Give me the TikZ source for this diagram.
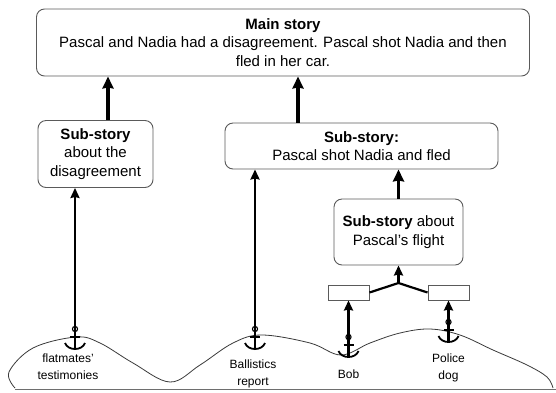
\documentclass[tikz,border=0pt]{standalone}
\usepackage{fontspec}
\setmainfont{Liberation Sans}
\usetikzlibrary{arrows.meta, calc}
\definecolor{BoxEdge}{HTML}{5A5A5A}
\definecolor{GroundEdge}{HTML}{3A3A3A}
\definecolor{BaseLine}{HTML}{6E6E6E}
\tikzset{
    % Story boxes
    storybox/.style={
        rectangle,
        rounded corners=8pt,
        draw=BoxEdge,
        line width=0.9pt,
        fill=white,
        inner sep=0pt,
        align=center,
        font=\fontsize{15}{18.5}\selectfont
    },
    factbox/.style={
        rectangle,
        draw=BoxEdge,
        line width=0.9pt,
        fill=white,
        minimum width=41pt,
        minimum height=15pt,
        inner sep=0pt
    },
    evidence/.style={
        align=center,
        inner sep=0pt,
        font=\fontsize{12}{17}\selectfont
    },
    % Arrow styles
    bigarrow/.style={
        -{Stealth[length=12pt,width=11pt,inset=1pt]},
        line width=3.4pt,
        black
    },
    moorarrow/.style={
        -{Stealth[length=10pt,width=9pt,inset=1pt]},
        line width=2.3pt,
        black
    },
    % Anchor symbol, origin at the bottom of the arc
    moor/.pic={
        \draw[line width=1.1pt] (0,-21) circle (2.6pt);
        \draw[line width=1.5pt] (-5,-13) -- (5,-13);
        \draw[line width=1.8pt] (-10,-7) .. controls (-7,1) and (7,1) .. (10,-7);
    }
}
\begin{document}
\begin{tikzpicture}[x=1pt, y=-1pt]
    \useasboundingbox (0,0) rectangle (556,392);

    % Stories
    \node[storybox, minimum width=493pt, minimum height=67pt] (main) at (283,42.5)
        {\textbf{Main story}\\Pascal and Nadia had a disagreement. Pascal shot Nadia and then\\fled in her car.};
    \node[storybox, minimum width=115pt, minimum height=67pt] (subdis) at (95.5,154)
        {\textbf{Sub-story}\\about the\\disagreement};
    \node[storybox, minimum width=273pt, minimum height=46pt] (subshot) at (361.5,146)
        {\textbf{Sub-story:}\\Pascal shot Nadia and fled};
    \node[storybox, minimum width=129pt, minimum height=66pt] (subflight) at (398.5,232)
        {\textbf{Sub-story} about\\Pascal's flight};

    % Facts about the flight
    \node[factbox] (factbob) at (348.5,292.5) {};
    \node[factbox] (factdog) at (448.5,292.5) {};
    \coordinate (join) at (398.5,283);

    % Ground of evidence
    \draw[GroundEdge, line width=0.8pt] plot[smooth, tension=0.6] coordinates {
        (15,388) (9,372) (33,348) (76,337) (100,343) (133,363) (170,382)
        (200,365) (233,343) (262,335) (310,343) (341,355) (370,343)
        (400,333) (430,329) (460,335) (493,350) (527,365) (547,377) (553,388)};
    \draw[BaseLine, line width=1.8pt] (15,389.5) -- (556,389.5);

    % Anchors
    \coordinate (flat) at (75,350);
    \coordinate (ball) at (255,350);
    \coordinate (bob) at (348.5,358);
    \coordinate (dog) at (448.5,343);
    \foreach \p in {flat, ball, bob, dog}
        \pic at (\p) {moor};

    % Evidence labels
    \node[evidence] (lblflat) at (68,367) {flatmates'\\testimonies};
    \node[evidence] (lblball) at (253,374) {Ballistics\\report};
    \node[evidence] (lblbob) at (348.5,374) {Bob};
    \node[evidence] (lbldog) at (448.5,368) {Police\\dog};

    % Arrows
    \draw[bigarrow] ([xshift=12.5pt]subdis.north) -- ([xshift=12.5pt]subdis.north |- main.south);
    \draw[bigarrow] ([xshift=-63.5pt]subshot.north) -- ([xshift=-63.5pt]subshot.north |- main.south);
    \draw[bigarrow] (subflight.north) -- (subflight.north |- subshot.south);
    \draw[moorarrow] (flat) -- (flat |- subdis.south);
    \draw[moorarrow] (ball) -- (ball |- subshot.south);
    \draw[moorarrow] (bob) -- (factbob.south);
    \draw[moorarrow] (dog) -- (factdog.south);
    \draw[line width=2.2pt] (factbob.east) -- (join) -- (factdog.west);
    \draw[moorarrow] (join) -- (subflight.south);
\end{tikzpicture}
\end{document}
